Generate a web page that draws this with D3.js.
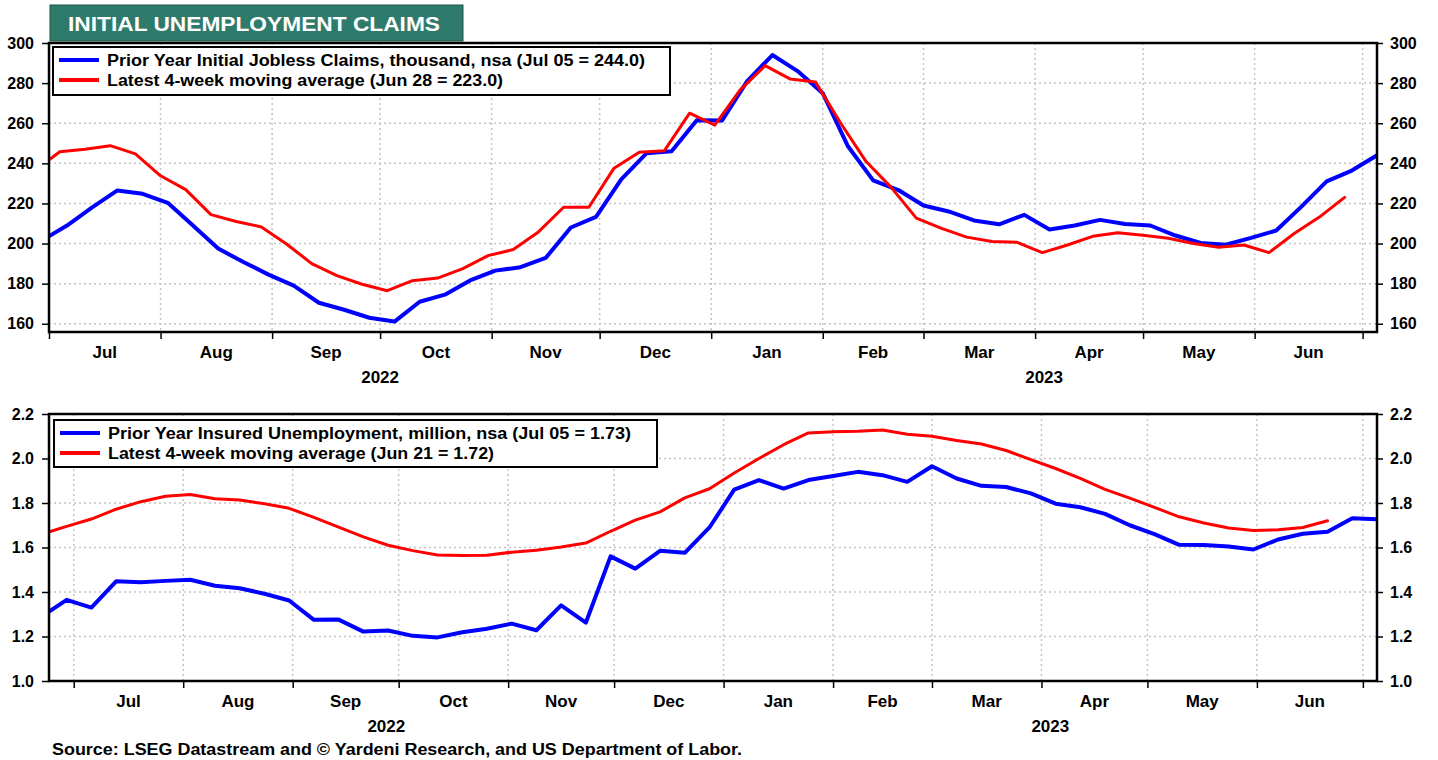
<!DOCTYPE html>
<html>
<head>
<meta charset="utf-8">
<script src="https://cdn.jsdelivr.net/npm/d3@7"></script>
<style>
  body { margin: 0; background: #fff; }
  svg text { font-family: "Liberation Sans", Arial, sans-serif; font-weight: bold; fill: #000; }
</style>
</head>
<body>
<div id="chart"></div>
<script>
// weekly series (first point starts just left of the plot)
var claimsStart = new Date(2022, 5, 29);      // Wed, weekly
var claimsPriorYear = [201.5, 209, 218, 226.5, 224.8, 220.3, 209, 197.5, 190.8, 184.5, 179, 170.5, 167, 163,
  161.1, 171, 174.5, 181.6, 186.5, 188.2, 192.8, 208, 213.3, 232, 245, 246, 261.5, 261.3, 281, 294, 286, 275,
  248.5, 231.5, 226.7, 219, 216, 211.5, 209.6, 214.3, 207, 209, 211.8, 209.8, 209, 204, 200.3, 199.4, 202.8,
  206.5, 218.4, 231, 236.4, 244];
var claimsAvgStart = new Date(2022, 5, 27);
var claimsLatestAvg = [236.2, 245.8, 247, 248.8, 244.7, 233.8, 226.9, 214.4, 211, 208.3, 199.8, 190, 184, 179.7,
  176.5, 181.5, 182.8, 187.5, 194, 197, 205.8, 218.1, 218.1, 237.6, 245.5, 246.3, 265, 259, 276.5, 288.7, 282,
  280.5, 260, 241, 228, 212.7, 207.6, 203.2, 201, 200.6, 195.5, 199.3, 203.6, 205.4, 204.1, 202.6, 200, 198.2,
  199.3, 195.5, 205, 213.2, 223];

var insuredStart = new Date(2022, 5, 22);
var insuredPriorYear = [1.29, 1.365, 1.33, 1.448, 1.444, 1.45, 1.455, 1.428, 1.417, 1.392, 1.362, 1.275, 1.276,
  1.222, 1.227, 1.203, 1.196, 1.219, 1.235, 1.258, 1.228, 1.34, 1.262, 1.56, 1.505, 1.585, 1.576, 1.69, 1.86,
  1.903, 1.865, 1.903, 1.921, 1.94, 1.925, 1.895, 1.965, 1.91, 1.877, 1.872, 1.843, 1.797, 1.781, 1.751, 1.7,
  1.66, 1.612, 1.611, 1.604, 1.591, 1.636, 1.662, 1.671, 1.732, 1.727];
var insuredLatestAvg = [1.66, 1.695, 1.728, 1.772, 1.806, 1.83, 1.838, 1.819, 1.813, 1.797, 1.776, 1.735, 1.692,
  1.648, 1.61, 1.586, 1.566, 1.564, 1.565, 1.579, 1.588, 1.602, 1.62, 1.673, 1.723, 1.76, 1.823, 1.864, 1.935,
  2.0, 2.062, 2.115, 2.12, 2.122, 2.128, 2.109, 2.1, 2.081, 2.065, 2.036, 1.995, 1.955, 1.911, 1.861, 1.822,
  1.78, 1.738, 1.71, 1.688, 1.676, 1.68, 1.69, 1.72];

var claimsTicks = [160, 180, 200, 220, 240, 260, 280, 300];
var insuredTicks = [1.0, 1.2, 1.4, 1.6, 1.8, 2.0, 2.2];
var years = [2022, 2023];

var claimsLegend = ["Prior Year Initial Jobless Claims, thousand, nsa (Jul 05 = 244.0)",
                    "Latest 4-week moving average (Jun 28 = 223.0)"];
var insuredLegend = ["Prior Year Insured Unemployment, million, nsa (Jul 05 = 1.73)",
                     "Latest 4-week moving average (Jun 21 = 1.72)"];

function weekly(start, values) {
  return values.map((v, i) => ({ date: d3.timeDay.offset(start, 7 * i), value: v }));
}

var svg = d3.select("#chart").append("svg")
  .attr("width", 1438)
  .attr("height", 760);

// title box
svg.append("rect")
  .attr("x", 50).attr("y", 5).attr("width", 413).attr("height", 36)
  .attr("fill", "#2f7b6b").attr("stroke", "#1f5448").attr("stroke-width", 1);
svg.append("text")
  .attr("x", 68).attr("y", 31)
  .attr("textLength", 372).attr("lengthAdjust", "spacingAndGlyphs")
  .style("font-size", "21px").style("fill", "#fff")
  .text("INITIAL UNEMPLOYMENT CLAIMS");

function panel(cfg) {
  var left = 49, right = 1377;
  var x = d3.scaleTime().domain(cfg.xDomain).range([left, right]);
  var y = d3.scaleLinear().domain(cfg.yDomain).range([cfg.bottom, cfg.top]);
  var g = svg.append("g");

  var clipId = "clip" + cfg.id;
  svg.append("clipPath").attr("id", clipId)
    .append("rect").attr("x", left).attr("y", cfg.top).attr("width", right - left).attr("height", cfg.bottom - cfg.top);

  var months = d3.timeMonth.range(d3.timeMonth.ceil(cfg.xDomain[0]), cfg.xDomain[1]);

  // grid
  g.selectAll("line.hgrid")
    .data(cfg.ticks.filter(t => y(t) > cfg.top + 1))
    .enter().append("line")
    .attr("x1", left).attr("x2", right)
    .attr("y1", d => y(d)).attr("y2", d => y(d))
    .attr("stroke", "#c4c4c4").attr("stroke-width", 1.5).attr("stroke-dasharray", "2,3");
  g.selectAll("line.vgrid")
    .data(months.filter(m => x(m) > left + 1))
    .enter().append("line")
    .attr("x1", d => x(d)).attr("x2", d => x(d))
    .attr("y1", cfg.top).attr("y2", cfg.bottom)
    .attr("stroke", "#c4c4c4").attr("stroke-width", 1.5).attr("stroke-dasharray", "2,3");

  // series
  var line = d3.line().x(d => x(d.date)).y(d => y(d.value));
  cfg.series.forEach(s => {
    g.append("path")
      .datum(s.data)
      .attr("clip-path", "url(#" + clipId + ")")
      .attr("fill", "none")
      .attr("stroke", s.color)
      .attr("stroke-width", s.width)
      .attr("stroke-linejoin", "round")
      .attr("stroke-linecap", "round")
      .attr("d", line);
  });

  // frame
  g.append("rect")
    .attr("x", left).attr("y", cfg.top).attr("width", right - left).attr("height", cfg.bottom - cfg.top)
    .attr("fill", "none").attr("stroke", "#000").attr("stroke-width", 2.5);

  // y axes both sides
  var yl = g.append("g").attr("transform", `translate(${left},0)`)
    .call(d3.axisLeft(y).tickValues(cfg.ticks).tickSize(7).tickPadding(8).tickFormat(cfg.fmt));
  var yr = g.append("g").attr("transform", `translate(${right},0)`)
    .call(d3.axisRight(y).tickValues(cfg.ticks).tickSize(6).tickPadding(7).tickFormat(cfg.fmt));
  [yl, yr].forEach(a => {
    a.select(".domain").remove();
    a.selectAll(".tick line").attr("stroke", "#000").attr("stroke-width", 1.5);
    a.selectAll(".tick text").style("font-size", "16px").style("font-family", null);
  });

  // x axis month ticks
  var xa = g.append("g").attr("transform", `translate(0,${cfg.bottom})`)
    .call(d3.axisBottom(x).tickValues(months).tickSize(7).tickFormat(""));
  xa.select(".domain").remove();
  xa.selectAll(".tick line").attr("stroke", "#000").attr("stroke-width", 1.5);

  // month labels centred in each full month
  var fmt = d3.timeFormat("%b");
  g.selectAll("text.month")
    .data(months.filter(m => d3.timeMonth.offset(m, 1) <= cfg.xDomain[1]))
    .enter().append("text")
    .attr("x", d => (x(d) + x(d3.timeMonth.offset(d, 1))) / 2)
    .attr("y", cfg.bottom + 26)
    .attr("text-anchor", "middle")
    .style("font-size", "17px")
    .text(d => fmt(d));

  // year labels
  g.selectAll("text.year")
    .data(years)
    .enter().append("text")
    .attr("x", d => {
      var a = Math.max(x(new Date(d, 0, 1)), left);
      var b = Math.min(x(new Date(d + 1, 0, 1)), right);
      return (a + b) / 2;
    })
    .attr("y", cfg.bottom + 51)
    .attr("text-anchor", "middle")
    .style("font-size", "17px")
    .text(d => d);

  // legend
  var lg = g.append("g");
  lg.append("rect")
    .attr("x", cfg.legend.x).attr("y", cfg.legend.y)
    .attr("width", cfg.legend.w).attr("height", cfg.legend.h)
    .attr("fill", "#fff").attr("stroke", "#000").attr("stroke-width", 2);
  cfg.series.forEach((s, i) => {
    var cy = cfg.legend.y + 13 + i * 20;
    lg.append("line")
      .attr("x1", cfg.legend.x + 6).attr("x2", cfg.legend.x + 46)
      .attr("y1", cy).attr("y2", cy)
      .attr("stroke", s.color).attr("stroke-width", 4);
    lg.append("text")
      .attr("x", cfg.legend.x + 54).attr("y", cy + 6)
      .attr("textLength", cfg.legend.lens[i]).attr("lengthAdjust", "spacingAndGlyphs")
      .style("font-size", "16px")
      .text(cfg.legend.labels[i]);
  });
}

panel({
  id: "top",
  top: 43, bottom: 332,
  xDomain: [new Date(2022, 6, 1), new Date(2023, 6, 5)],
  yDomain: [155.9, 300],
  ticks: claimsTicks,
  fmt: d3.format("d"),
  series: [
    { data: weekly(claimsStart, claimsPriorYear), color: "#0000ff", width: 4 },
    { data: weekly(claimsAvgStart, claimsLatestAvg), color: "#ff0000", width: 3 }
  ],
  legend: { x: 53, y: 47, w: 617, h: 48, labels: claimsLegend, lens: [538, 396] }
});

panel({
  id: "bottom",
  top: 414, bottom: 681,
  xDomain: [new Date(2022, 5, 24), new Date(2023, 6, 5)],
  yDomain: [1.0, 2.2],
  ticks: insuredTicks,
  fmt: d3.format(".1f"),
  series: [
    { data: weekly(insuredStart, insuredPriorYear), color: "#0000ff", width: 4 },
    { data: weekly(insuredStart, insuredLatestAvg), color: "#ff0000", width: 3 }
  ],
  legend: { x: 54, y: 420, w: 603, h: 47, labels: insuredLegend, lens: [523, 386] }
});

// source note
svg.append("text")
  .attr("x", 52).attr("y", 755)
  .attr("textLength", 690).attr("lengthAdjust", "spacingAndGlyphs")
  .style("font-size", "16px")
  .text("Source: LSEG Datastream and \u00a9 Yardeni Research, and US Department of Labor.");
</script>
</body>
</html>
